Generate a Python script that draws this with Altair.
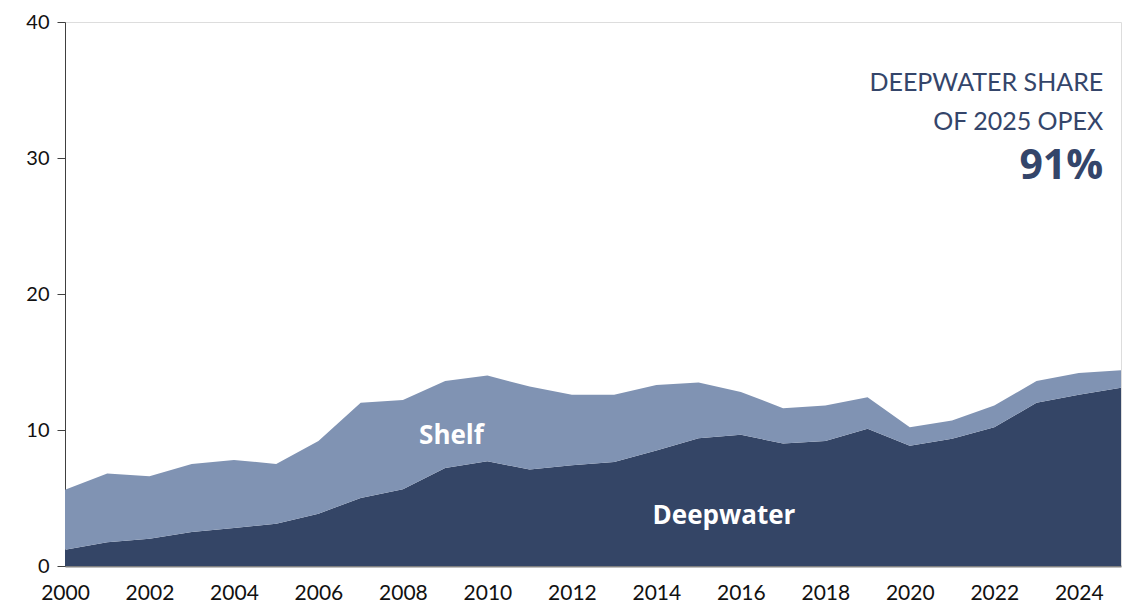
import altair as alt
import pandas as pd

years = list(range(2000, 2026))
deepwater = [1.2, 1.75, 2.0, 2.5, 2.8, 3.1, 3.85, 5.0, 5.65, 7.2, 7.7, 7.1, 7.4, 7.65,
             8.5, 9.4, 9.65, 9.0, 9.2, 10.1, 8.85, 9.35, 10.2, 12.0, 12.6, 13.1]
total = [5.6, 6.8, 6.6, 7.5, 7.8, 7.5, 9.2, 12.0, 12.2, 13.6, 14.0, 13.2, 12.6, 12.6,
         13.3, 13.5, 12.8, 11.6, 11.8, 12.4, 10.2, 10.7, 11.8, 13.6, 14.2, 14.4]
shelf = [round(t - d, 2) for t, d in zip(total, deepwater)]
series = ["Deepwater", "Shelf"]
colors = ["#344566", "#8093b3"]
y_ticks = [0, 10, 20, 30, 40]
x_ticks = list(range(2000, 2025, 2))

rows = []
for i, y in enumerate(years):
    rows.append({"year": y, "series": "Deepwater", "value": deepwater[i], "ord": 0})
    rows.append({"year": y, "series": "Shelf", "value": shelf[i], "ord": 1})
df = pd.DataFrame(rows)

FONT = "Lato"

x_scale = alt.Scale(domain=[2000, 2025], nice=False, zero=False)
y_scale = alt.Scale(domain=[0, 40], nice=False)

area = alt.Chart(df).mark_area(opacity=1, interpolate="linear").encode(
    x=alt.X("year:Q", scale=x_scale,
            axis=alt.Axis(values=x_ticks, format="d", title=None, ticks=False,
                          labelFont=FONT, labelFontSize=21, labelColor="#111111",
                          labelPadding=16, domainColor="#808080", domainWidth=2,
                          grid=False, labelFlush=False)),
    y=alt.Y("value:Q", stack="zero", scale=y_scale,
            axis=alt.Axis(values=y_ticks, title=None, tickSize=8, tickColor="#404040",
                          domainColor="#404040", domainWidth=1, labelFont=FONT,
                          labelFontSize=20, labelColor="#111111", labelPadding=8,
                          grid=False)),
    color=alt.Color("series:N", scale=alt.Scale(domain=series, range=colors), legend=None),
    order=alt.Order("ord:Q"),
)

lab_text = ["Shelf", "Deepwater"]
lab_x = [2009.15, 2015.6]
lab_y = [9.56, 3.68]
labels = alt.Chart(pd.DataFrame({"t": lab_text, "x": lab_x, "y": lab_y})).mark_text(
    font="Open Sans", fontSize=26, fontWeight="bold", color="white", align="center",
    baseline="middle"
).encode(x=alt.X("x:Q", scale=x_scale), y=alt.Y("y:Q", scale=y_scale), text="t:N")

ann_text = ["DEEPWATER SHARE", "OF 2025 OPEX"]
ann_x = [2024.58, 2024.58]
ann_y = [34.95, 32.06]
ann = alt.Chart(pd.DataFrame({"t": ann_text, "x": ann_x, "y": ann_y})).mark_text(
    font=FONT, fontSize=25, color="#34456a", align="right", baseline="alphabetic"
).encode(x=alt.X("x:Q", scale=x_scale), y=alt.Y("y:Q", scale=y_scale), text="t:N")

big = alt.Chart(pd.DataFrame({"t": ["91%"], "x": [2024.58], "y": [28.46]})).mark_text(
    font="Open Sans", fontSize=41, fontWeight="bold", color="#34456a", align="right",
    baseline="alphabetic"
).encode(x=alt.X("x:Q", scale=x_scale), y=alt.Y("y:Q", scale=y_scale), text="t:N")

chart = alt.layer(area, labels, ann, big).properties(
    width=1056, height=544,
    autosize=alt.AutoSizeParams(type="none"),
    padding={"left": 57, "top": 14, "right": 6, "bottom": 39},
).configure_view(stroke=None).configure(background="white")

chart.save("out.html", embed_options={"renderer": "svg", "actions": False})
